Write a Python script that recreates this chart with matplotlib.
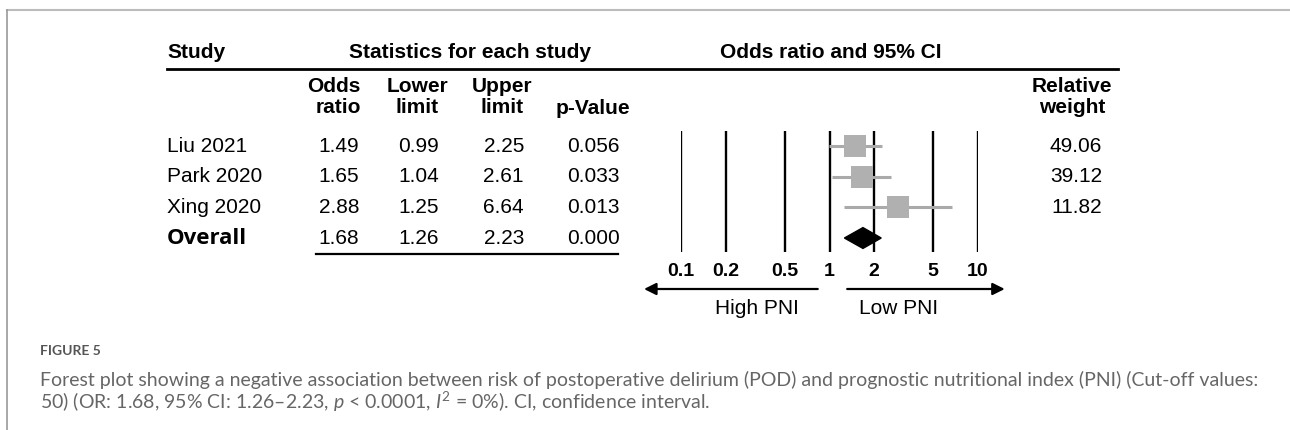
import matplotlib
matplotlib.use("Agg")
import matplotlib.pyplot as plt
from matplotlib.lines import Line2D

# data
studies = ["Liu 2021", "Park 2020", "Xing 2020"]
odds_ratio = [1.49, 1.65, 2.88]
lower_limit = [0.99, 1.04, 1.25]
upper_limit = [2.25, 2.61, 6.64]
p_values = ["0.056", "0.033", "0.013"]
rel_weight = ["49.06", "39.12", "11.82"]
overall = {"or": 1.68, "lo": 1.26, "hi": 2.23, "p": "0.000"}
axis_ticks = [0.1, 0.2, 0.5, 1, 2, 5, 10]
axis_tick_labels = ["0.1", "0.2", "0.5", "1", "2", "5", "10"]

plt.rcParams["font.family"] = ["Liberation Sans", "DejaVu Sans"]
plt.rcParams["mathtext.fontset"] = "custom"
plt.rcParams["mathtext.rm"] = "Lato"
plt.rcParams["mathtext.it"] = "Lato:italic"

W, H = 1290, 430
fig = plt.figure(figsize=(W / 100, H / 100), dpi=100)

# row units: row r sits at pixel 146 + 30.67 * r
def row_of(py):
    return (py - 146) / 30.67

ylim = (row_of(H), row_of(0))

tab = fig.add_axes([0, 0, 1, 1])
tab.set_xlim(0, W)
tab.set_ylim(*ylim)
tab.axis("off")

fax = fig.add_axes([681 / W, 0, 297 / W, 1])
fax.set_xscale("log")
fax.set_xlim(0.1, 10)
fax.set_ylim(*ylim)
fax.axis("off")
fax.patch.set_alpha(0)

rows = list(range(len(studies)))
ov_row = len(studies)

# forest part
fax.vlines(axis_ticks, row_of(131), row_of(252), color="black", lw=1.7)
fax.hlines(rows, lower_limit, upper_limit, color="#aaaaaa", lw=2.2, zorder=2)
fax.scatter(odds_ratio, rows, marker="s", s=230, color="#b0b0b0", linewidths=0, zorder=3)
dh = 0.34
fax.fill([overall["lo"], overall["or"], overall["hi"], overall["or"]],
         [ov_row, ov_row - dh, ov_row, ov_row + dh], color="black", zorder=3)
for t, lab in zip(axis_ticks, axis_tick_labels):
    fax.text(t, row_of(272), lab, ha="center", va="center", fontsize=14, fontweight="bold")

arrow_y = row_of(289)
arrow_kw = dict(arrowstyle="-|>", lw=1.6, color="black", mutation_scale=18)
fax.annotate("", xy=(0.054, arrow_y), xytext=(0.87, arrow_y), arrowprops=arrow_kw,
             annotation_clip=False)
fax.annotate("", xy=(15.8, arrow_y), xytext=(1.26, arrow_y), arrowprops=arrow_kw,
             annotation_clip=False)
fax.text(0.327, row_of(308), "High PNI", ha="center", va="center", fontsize=15)
fax.text(2.92, row_of(308), "Low PNI", ha="center", va="center", fontsize=15)

# table headers
hy = row_of(52)
tab.text(167, hy, "Study", ha="left", va="center", fontsize=15, fontweight="bold")
tab.text(470, hy, "Statistics for each study", ha="center", va="center", fontsize=15, fontweight="bold")
tab.text(831, hy, "Odds ratio and 95% CI", ha="center", va="center", fontsize=15, fontweight="bold")
tab.plot([167, 1118], [row_of(68.5)] * 2, color="black", lw=2)

sy = row_of(97)
tab.text(361, sy, "Odds\nratio", ha="right", va="center", multialignment="right",
         fontsize=15, fontweight="bold", linespacing=1.1)
tab.text(417, sy, "Lower\nlimit", ha="center", va="center", multialignment="center",
         fontsize=15, fontweight="bold", linespacing=1.1)
tab.text(502, sy, "Upper\nlimit", ha="center", va="center", multialignment="center",
         fontsize=15, fontweight="bold", linespacing=1.1)
tab.text(593, row_of(109), "p-Value", ha="center", va="center", fontsize=15, fontweight="bold")
tab.text(1072, sy, "Relative\nweight", ha="center", va="center", multialignment="center",
         fontsize=15, fontweight="bold", linespacing=1.1)

# table body
for r, name, o, lo, hi, p, w in zip(rows, studies, odds_ratio, lower_limit, upper_limit,
                                     p_values, rel_weight):
    tab.text(167, r, name, ha="left", va="center", fontsize=15)
    tab.text(359, r, f"{o:.2f}", ha="right", va="center", fontsize=15)
    tab.text(439, r, f"{lo:.2f}", ha="right", va="center", fontsize=15)
    tab.text(524, r, f"{hi:.2f}", ha="right", va="center", fontsize=15)
    tab.text(620, r, p, ha="right", va="center", fontsize=15)
    tab.text(1102, r, w, ha="right", va="center", fontsize=15)

tab.text(167, ov_row, "Overall", ha="left", va="center", fontsize=16, fontweight="bold",
         family=["Open Sans", "DejaVu Sans"])
tab.text(359, ov_row, f"{overall['or']:.2f}", ha="right", va="center", fontsize=15)
tab.text(439, ov_row, f"{overall['lo']:.2f}", ha="right", va="center", fontsize=15)
tab.text(524, ov_row, f"{overall['hi']:.2f}", ha="right", va="center", fontsize=15)
tab.text(620, ov_row, overall["p"], ha="right", va="center", fontsize=15)
tab.plot([316, 618], [row_of(254)] * 2, color="black", lw=1.6)

# caption
cap_font = ["Lato", "DejaVu Sans"]
fig.text(40 / W, 1 - 351 / H, "FIGURE 5", ha="left", va="center", fontsize=10,
         fontweight="bold", color="#555555", family=cap_font)
fig.text(40 / W, 1 - 380 / H,
         "Forest plot showing a negative association between risk of postoperative delirium (POD) "
         "and prognostic nutritional index (PNI) (Cut-off values:",
         ha="left", va="center", fontsize=14, color="#666666", family=cap_font)
fig.text(40 / W, 1 - 402 / H,
         "50) (OR: 1.68, 95% CI: 1.26\u20132.23, $p$ < 0.0001, $I^2$ = 0%). CI, confidence interval.",
         ha="left", va="center", fontsize=14, color="#666666", family=cap_font)

# page frame
fig.add_artist(Line2D([7 / W, 1], [1 - 9.5 / H] * 2, transform=fig.transFigure,
                      color="#bbbbbb", lw=1.5))
fig.add_artist(Line2D([7 / W] * 2, [0, 1 - 9.5 / H], transform=fig.transFigure,
                      color="#999999", lw=1.2))

fig.savefig("out.png", dpi=100)
